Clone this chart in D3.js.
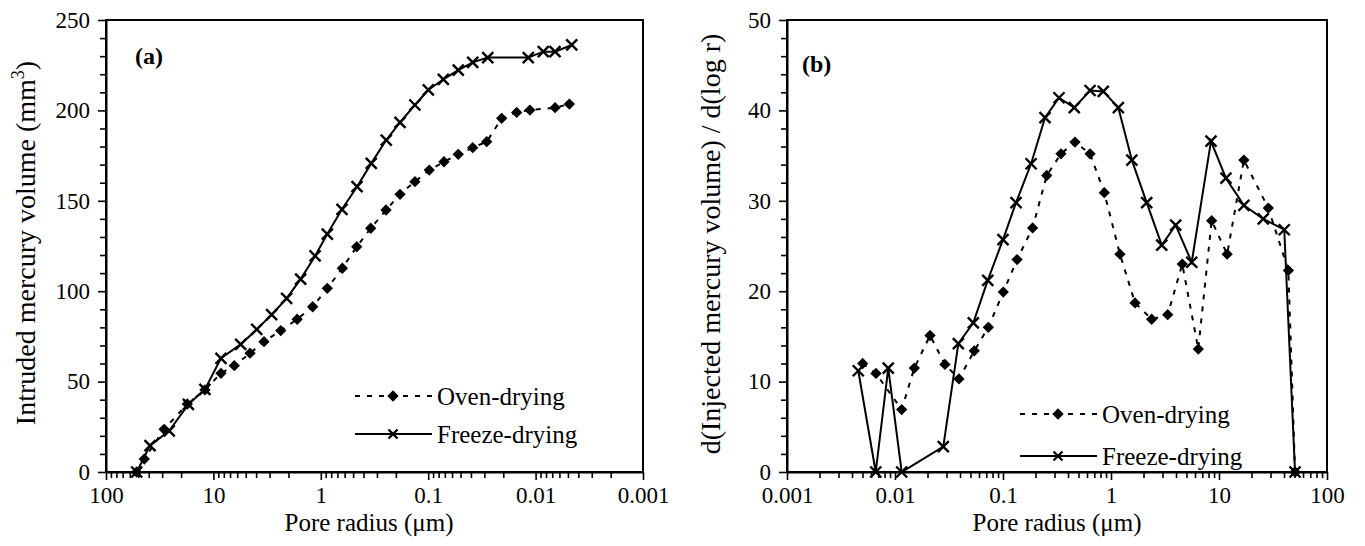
<!DOCTYPE html>
<html>
<head>
<meta charset="utf-8">
<script src="https://cdn.jsdelivr.net/npm/d3@7"></script>
<style>
  body { margin: 0; background: #fff; }
  svg, svg text { font-family: "Liberation Serif", Tinos, "Times New Roman", Times, "DejaVu Serif", serif; }
</style>
</head>
<body>
<div id="chart"></div>
<script>
// 数据：孔径 (µm) 与对应数值
// (a) 累计进汞量
const radiusOvenA   = [51.8, 44.0, 28.8, 17.5, 12.0, 8.5, 6.39, 4.56, 3.38, 2.36, 1.66, 1.19, 0.87, 0.63, 0.463, 0.343, 0.247, 0.183, 0.133, 0.0977, 0.0713, 0.0525, 0.0385, 0.0285, 0.0207, 0.0150, 0.0113, 0.00659, 0.00485];
const volumeOvenA   = [0, 7.2, 23.6, 37.6, 45.4, 54.6, 58.8, 65.7, 72.1, 78.2, 84.5, 91.4, 101.6, 112.7, 124.6, 134.8, 144.9, 153.6, 160.6, 167, 171.6, 175.7, 179.4, 182.7, 195.6, 198.9, 200.2, 201.5, 203.5];
const radiusFreezeA = [51.8, 38.9, 25.8, 17.1, 12.0, 8.5, 5.57, 3.95, 2.87, 2.08, 1.54, 1.13, 0.87, 0.635, 0.46, 0.339, 0.246, 0.183, 0.133, 0.0998, 0.0723, 0.0525, 0.0385, 0.0279, 0.0117, 0.00848, 0.00659, 0.00461];
const volumeFreezeA = [0, 14.6, 22.8, 37.4, 45.7, 62.9, 70.6, 78.9, 87, 96, 106.7, 119.5, 131.6, 145.3, 157.8, 170.7, 183.6, 193.4, 203, 211.3, 217.2, 222.3, 226.6, 229.2, 229.2, 232.5, 232.5, 236.2];

// (b) 孔径分布 d(V)/d(log r)
const radiusOvenB   = [0.00502, 0.00667, 0.01153, 0.0151, 0.0211, 0.0290, 0.0391, 0.0542, 0.0731, 0.1006, 0.135, 0.188, 0.254, 0.344, 0.464, 0.640, 0.867, 1.21, 1.67, 2.38, 3.35, 4.57, 6.43, 8.55, 11.9, 17.0, 28.6, 43.9, 50.6];
const distOvenB     = [12.0, 10.9, 6.9, 11.5, 15.1, 11.9, 10.3, 13.4, 16.0, 19.9, 23.5, 27.0, 32.8, 35.2, 36.5, 35.2, 30.9, 24.1, 18.7, 16.9, 17.4, 23.0, 13.6, 27.8, 24.1, 34.5, 29.2, 22.3, 0];
const radiusFreezeB = [0.00457, 0.00663, 0.00866, 0.01153, 0.0280, 0.0386, 0.0531, 0.0722, 0.1, 0.132, 0.182, 0.245, 0.330, 0.457, 0.640, 0.849, 1.17, 1.56, 2.14, 2.95, 3.97, 5.59, 8.43, 11.6, 17.0, 25.7, 40.2, 50.6];
const distFreezeB   = [11.2, 0, 11.5, 0, 2.8, 14.2, 16.5, 21.2, 25.7, 29.8, 34.1, 39.2, 41.4, 40.3, 42.2, 42.1, 40.3, 34.5, 29.8, 25.1, 27.3, 23.2, 36.6, 32.5, 29.5, 28.0, 26.8, 0];

// 坐标轴刻度
const decadeLabels = [100, 10, 1, 0.1, 0.01, 0.001];
const yTicksA = [0, 50, 100, 150, 200, 250];
const yTicksB = [0, 10, 20, 30, 40, 50];
const seriesNames = ['Oven-drying', 'Freeze-drying'];

const FONT = '"Liberation Serif", Tinos, "Times New Roman", Times, "DejaVu Serif", serif';
const W = 1365, H = 546;
const svg = d3.select('#chart').append('svg')
  .attr('width', W)
  .attr('height', H)
  .style('font-family', FONT);

const fmtDecade = d => {
  const l = Math.log10(d);
  if (Math.abs(l - Math.round(l)) > 1e-6) return '';
  return decadeLabels.find(v => Math.abs(Math.log10(v) - l) < 1e-6).toString();
};

// 菱形与叉号标记
function diamonds(g, pts) {
  g.selectAll(null).data(pts).enter().append('path')
    .attr('d', d3.symbol(d3.symbolSquare, 64)())
    .attr('transform', d => `translate(${d[0]},${d[1]}) rotate(45)`)
    .attr('fill', '#000');
}
function crosses(g, pts, s) {
  g.selectAll(null).data(pts).enter().append('path')
    .attr('d', d => `M${d[0]-s},${d[1]-s}L${d[0]+s},${d[1]+s}M${d[0]-s},${d[1]+s}L${d[0]+s},${d[1]-s}`)
    .attr('stroke', '#000')
    .attr('stroke-width', 2.4)
    .attr('fill', 'none');
}

function drawPanel(opt) {
  const { x, y, yTicks, yMinorStep, title, yTitle, ovenR, ovenV, freezeR, freezeV,
          legend, labelPos, yTitlePos, xTitleX } = opt;
  const g = svg.append('g');
  const [x0, x1] = x.range();
  const [yb, yt] = y.range();

  // 数据线
  const line = d3.line().x(d => x(d[0])).y(d => y(d[1]));
  const oven = ovenR.map((r, i) => [r, ovenV[i]]);
  const freeze = freezeR.map((r, i) => [r, freezeV[i]]);

  g.append('path').datum(oven)
    .attr('d', line)
    .attr('fill', 'none')
    .attr('stroke', '#000')
    .attr('stroke-width', 2)
    .attr('stroke-dasharray', '5 7');
  g.append('path').datum(freeze)
    .attr('d', line)
    .attr('fill', 'none')
    .attr('stroke', '#000')
    .attr('stroke-width', 2);

  diamonds(g, oven.map(d => [x(d[0]), y(d[1])]));
  crosses(g, freeze.map(d => [x(d[0]), y(d[1])]), 5.5);

  // 外框
  g.append('rect')
    .attr('x', Math.min(x0, x1)).attr('y', yt)
    .attr('width', Math.abs(x1 - x0)).attr('height', yb - yt)
    .attr('fill', 'none').attr('stroke', '#000').attr('stroke-width', 2);

  // x 轴（对数，含次刻度）
  const xAxis = d3.axisBottom(x).ticks(6).tickFormat(fmtDecade).tickSizeOuter(0);
  const gx = g.append('g').attr('transform', `translate(0,${yb})`).call(xAxis)
    .attr('font-family', FONT);
  gx.select('.domain').attr('stroke-width', 2);
  gx.selectAll('.tick line')
    .attr('stroke-width', 1.6)
    .attr('y2', d => fmtDecade(d) ? 8 : 6);
  gx.selectAll('.tick text')
    .attr('y', 15)
    .style('font-size', '23px');

  // y 轴（主刻度 + 次刻度）
  const minor = d3.range(yTicks[0], yTicks[yTicks.length - 1] + 1e-9, yMinorStep);
  const yAxis = d3.axisLeft(y).tickValues(minor)
    .tickFormat(d => yTicks.includes(d) ? d : '').tickSizeOuter(0);
  const gy = g.append('g').attr('transform', `translate(${x0},0)`).call(yAxis)
    .attr('font-family', FONT);
  gy.select('.domain').attr('stroke-width', 2);
  gy.selectAll('.tick line')
    .attr('stroke-width', 1.6)
    .attr('x2', d => yTicks.includes(d) ? -8 : -6);
  gy.selectAll('.tick text')
    .attr('x', -16)
    .style('font-size', '23px');

  // 轴标题
  g.append('text')
    .attr('x', xTitleX)
    .attr('y', 531)
    .attr('text-anchor', 'middle')
    .style('font-size', '25px')
    .text('Pore radius (μm)');

  const yt2 = g.append('text')
    .attr('transform', `translate(${yTitlePos[0]},${yTitlePos[1]}) rotate(-90)`)
    .attr('text-anchor', 'middle')
    .style('font-size', '28px');
  yTitle(yt2);

  // 面板编号
  g.append('text')
    .attr('x', labelPos[0]).attr('y', labelPos[1])
    .style('font-size', '24px')
    .style('font-weight', 'bold')
    .text(title);

  // 图例
  const [lx, ly, gap] = legend;
  seriesNames.forEach((name, i) => {
    const yy = ly + i * gap;
    g.append('line')
      .attr('x1', lx).attr('x2', lx + 77)
      .attr('y1', yy).attr('y2', yy)
      .attr('stroke', '#000').attr('stroke-width', 2)
      .attr('stroke-dasharray', i === 0 ? '5 7' : null);
    if (i === 0) diamonds(g, [[lx + 38, yy]]);
    else crosses(g, [[lx + 38, yy]], 4.5);
    g.append('text')
      .attr('x', lx + 82).attr('y', yy + 9)
      .style('font-size', '25px')
      .text(name);
  });
}

// (a) 面板：横轴反向
const xA = d3.scaleLog().domain([100, 0.001]).range([106, 643]);
const yA = d3.scaleLinear().domain([0, 250]).range([472, 20]);
drawPanel({
  x: xA, y: yA, yTicks: yTicksA, yMinorStep: 10, title: '(a)',
  yTitle: t => {
    t.append('tspan').text('Intruded mercury volume (mm');
    t.append('tspan').attr('dy', -11).style('font-size', '18px').text('3');
    t.append('tspan').attr('dy', 11).text(')');
  },
  yTitlePos: [35, 243], xTitleX: 369,
  ovenR: radiusOvenA, ovenV: volumeOvenA, freezeR: radiusFreezeA, freezeV: volumeFreezeA,
  legend: [355, 396, 38], labelPos: [135, 64]
});

// (b) 面板
const xB = d3.scaleLog().domain([0.001, 100]).range([787, 1327]);
const yB = d3.scaleLinear().domain([0, 50]).range([472, 20]);
drawPanel({
  x: xB, y: yB, yTicks: yTicksB, yMinorStep: 2, title: '(b)',
  yTitle: t => t.text('d(Injected mercury volume) / d(log r)'),
  yTitlePos: [720, 244], xTitleX: 1057,
  ovenR: radiusOvenB, ovenV: distOvenB, freezeR: radiusFreezeB, freezeV: distFreezeB,
  legend: [1020, 414, 42], labelPos: [802, 72]
});
</script>
</body>
</html>
